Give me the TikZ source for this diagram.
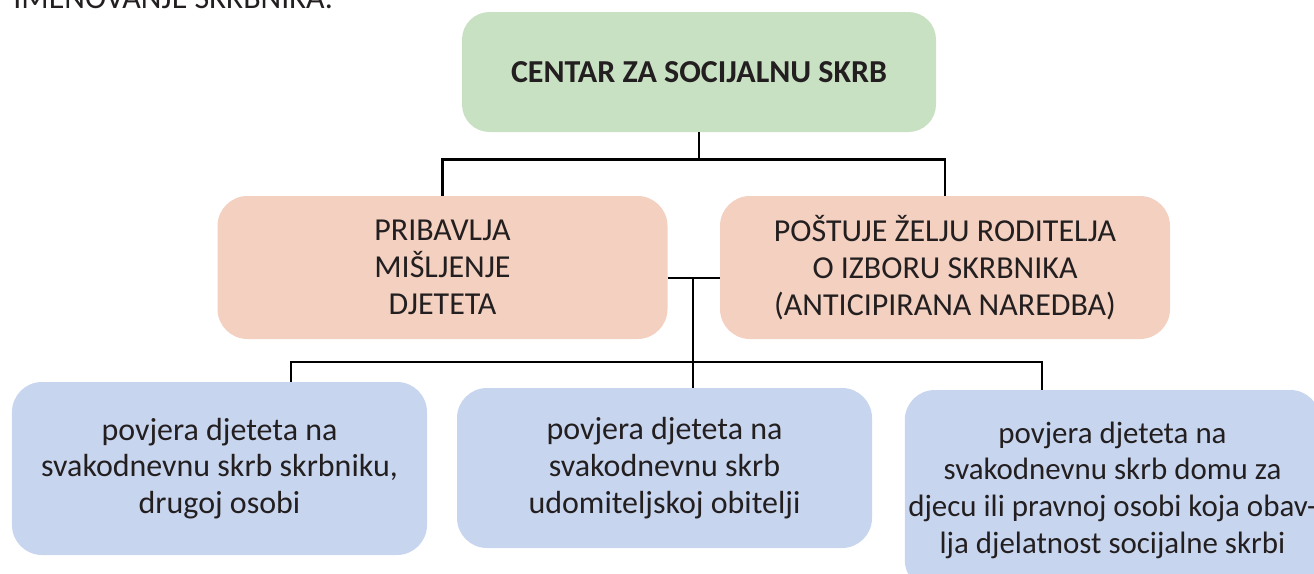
\documentclass[tikz,border=0pt]{standalone}
\usepackage{fontspec}
\setmainfont{Carlito}
\usetikzlibrary{calc}
\definecolor{zelena}{HTML}{C9E1C3}
\definecolor{roza}{HTML}{F3D0C0}
\definecolor{plava}{HTML}{C8D5EE}
\definecolor{tekst}{HTML}{231F20}
\tikzstyle{centar} = [rectangle, rounded corners=0.55cm, minimum width=9.48cm, minimum height=2.4cm, text centered, fill=zelena]
\tikzstyle{postupak} = [rectangle, rounded corners=0.6cm, minimum width=9.0cm, minimum height=2.86cm, text centered, align=center, fill=roza]
\tikzstyle{povjera} = [rectangle, rounded corners=0.6cm, minimum width=8.3cm, text centered, align=center, fill=plava]
\tikzstyle{line} = [line width=1.6pt, black]

\begin{document}
\begin{tikzpicture}[every node/.style={text=tekst, font=\fontsize{18.2}{20.9}\selectfont}]
    \useasboundingbox (0,0) rectangle (26.28,-11.46);
    \node (naslov) [anchor=base west, inner sep=0pt] at (0.26,-0.16) {IMENOVANJE SKRBNIKA.};
    \node (csz) [centar] at (13.98,-1.44) {\bfseries CENTAR ZA SOCIJALNU SKRB};
    \node (misljenje) [postupak] at (8.85,-5.35) {PRIBAVLJA\\MIŠLJENJE\\DJETETA};
    \node (zelja) [postupak] at (18.9,-5.35) {POŠTUJE ŽELJU RODITELJA\\O IZBORU SKRBNIKA\\(ANTICIPIRANA NAREDBA)};
    \node (osoba) [povjera, minimum height=3.46cm] at (4.39,-9.37) {povjera djeteta na\\svakodnevnu skrb skrbniku,\\drugoj osobi};
    \node (obitelj) [povjera, minimum height=3.2cm] at (13.29,-9.36) {povjera djeteta na\\svakodnevnu skrb\\udomiteljskoj obitelji};
    \node (dom) [povjera, minimum height=4.0cm, inner xsep=2pt, font=\fontsize{17.6}{20.9}\selectfont] at (22.25,-9.8) {povjera djeteta na\\svakodnevnu skrb domu za\\djecu ili pravnoj osobi koja obav-\\lja djelatnost socijalne skrbi};

    \coordinate (gore) at ($(csz.south)+(0,-0.54)$);
    \draw [line] (csz.south) -- (gore);
    \draw [line] (misljenje.north) |- (gore) -| (zelja.north);
    \draw [line] ([yshift=-0.21cm]misljenje.east) -- ([yshift=-0.21cm]zelja.west);
    \coordinate (sredina) at (13.86,-5.56);
    \coordinate (dolje) at (13.86,-7.24);
    \coordinate (lijevo) at (5.82,-7.24);
    \coordinate (desno) at (20.84,-7.24);
    \draw [line] (sredina) -- (obitelj.north -| sredina);
    \draw [line] (osoba.north -| lijevo) -- (lijevo) -- (desno) -- (dom.north -| desno);
\end{tikzpicture}
\end{document}
